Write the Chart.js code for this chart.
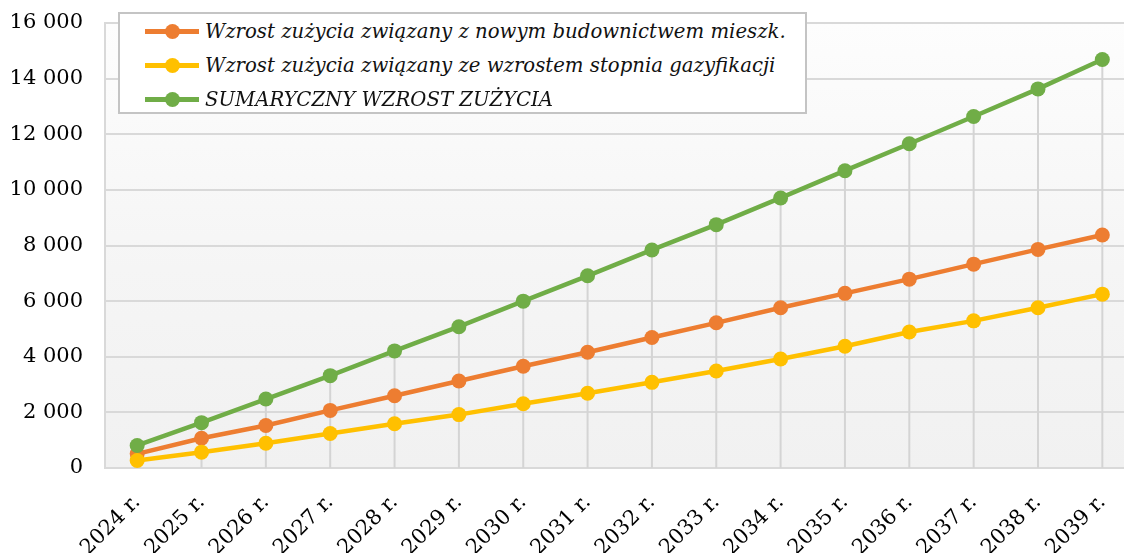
<!DOCTYPE html>
<html lang="pl">
<head>
<meta charset="utf-8">
<script src="https://cdn.jsdelivr.net/npm/chart.js@4/dist/chart.umd.min.js"></script>
<style>
    body { margin: 0; background: #fff; overflow: hidden; }
    #wrap { position: relative; width: 1142px; height: 553px; }
    #legend {
        position: absolute; left: 118px; top: 12px; width: 685px; height: 98px;
        background: #fff; border: 2px solid #c4c4c4;
        font-family: "DejaVu Serif", serif; font-style: italic; font-size: 19.7px; color: #111;
    }
    .row { position: absolute; left: 0; height: 34px; display: flex; align-items: center; white-space: nowrap; }
    .mark { position: relative; width: 54px; height: 34px; margin-left: 25px; margin-right: 6px; }
    .mark .ln { position: absolute; left: 0; right: 0; top: 15px; height: 5px; }
    .mark .dot { position: absolute; left: 20px; top: 10px; width: 15px; height: 15px; border-radius: 50%; }
</style>
</head>
<body>
<div id="wrap">
    <canvas id="chart" width="1142" height="553"></canvas>
    <div id="legend"></div>
</div>
<script>
const years = ['2024 r.', '2025 r.', '2026 r.', '2027 r.', '2028 r.', '2029 r.', '2030 r.', '2031 r.',
    '2032 r.', '2033 r.', '2034 r.', '2035 r.', '2036 r.', '2037 r.', '2038 r.', '2039 r.']

const housingGrowth = [510, 1070, 1530, 2070, 2600, 3130, 3660, 4160, 4690, 5220, 5760, 6280, 6790, 7330, 7860, 8380]
const gasificationGrowth = [270, 570, 890, 1240, 1590, 1920, 2310, 2690, 3080, 3490, 3920, 4380, 4890, 5290, 5760, 6250]
const totalGrowth = [810, 1630, 2480, 3320, 4210, 5080, 6000, 6910, 7840, 8750, 9710, 10690, 11660, 12640, 13630, 14690]

const seriesNames = [
    'Wzrost zużycia związany z nowym budownictwem mieszk.',
    'Wzrost zużycia związany ze wzrostem stopnia gazyfikacji',
    'SUMARYCZNY WZROST ZUŻYCIA'
]
const seriesColors = ['#ED7D31', '#FFC000', '#70AD47']

const yTicks = [0, 2000, 4000, 6000, 8000, 10000, 12000, 14000, 16000]

function formatThousands(v) {
    return String(v).replace(/\B(?=(\d{3})+(?!\d))/g, ' ')
}

function makeDataset(i, values) {
    return {
        label: seriesNames[i],
        data: values,
        borderColor: seriesColors[i],
        backgroundColor: seriesColors[i],
        pointBackgroundColor: seriesColors[i],
        pointBorderWidth: 0,
        pointRadius: 7.5,
        borderWidth: 4.5,
        tension: 0,
        order: 2 - i
    }
}

// plot area fill, light gradient towards the bottom
const plotBackground = {
    id: 'plotBackground',
    beforeDraw(chart) {
        const { ctx, chartArea: a } = chart
        const g = ctx.createLinearGradient(0, a.top, 0, a.bottom)
        g.addColorStop(0, '#fdfdfd')
        g.addColorStop(0.55, '#f5f5f5')
        g.addColorStop(1, '#f1f1f1')
        ctx.save()
        ctx.fillStyle = g
        ctx.fillRect(a.left, a.top, a.right - a.left, a.bottom - a.top)
        ctx.restore()
    }
}

// vertical drop lines from the highest point of each year down to the axis
const dropLines = {
    id: 'dropLines',
    beforeDatasetsDraw(chart) {
        const { ctx, chartArea: a, scales } = chart
        ctx.save()
        ctx.strokeStyle = '#d4d4d4'
        ctx.lineWidth = 2
        for (let i = 0; i < years.length; i++) {
            const top = Math.max(housingGrowth[i], gasificationGrowth[i], totalGrowth[i])
            const x = scales.x.getPixelForValue(i)
            ctx.beginPath()
            ctx.moveTo(x, scales.y.getPixelForValue(top))
            ctx.lineTo(x, a.bottom)
            ctx.stroke()
        }
        ctx.restore()
    }
}

const tickFont = { family: '"DejaVu Serif", serif', size: 21 }

new Chart(document.getElementById('chart'), {
    type: 'line',
    data: {
        labels: years,
        datasets: [
            makeDataset(0, housingGrowth),
            makeDataset(1, gasificationGrowth),
            makeDataset(2, totalGrowth)
        ]
    },
    options: {
        responsive: false,
        animation: false,
        layout: { padding: { top: 23, right: 2, left: 0, bottom: 0 } },
        plugins: { legend: { display: false }, tooltip: { enabled: false } },
        scales: {
            x: {
                offset: true,
                grid: { display: false },
                border: { display: true, color: '#d9d9d9', width: 2 },
                ticks: { color: '#000', font: tickFont, minRotation: 45, maxRotation: 45, padding: 14 },
                afterFit(scale) { scale.height = 85 }
            },
            y: {
                min: 0,
                max: 16000,
                afterBuildTicks(scale) { scale.ticks = yTicks.map(v => ({ value: v })) },
                grid: { color: '#d9d9d9', lineWidth: 2, drawTicks: true, tickLength: 20, tickColor: 'rgba(0,0,0,0)' },
                border: { display: true, color: '#d9d9d9', width: 2 },
                ticks: { color: '#000', font: tickFont, padding: 2, callback: v => formatThousands(v) },
                afterFit(scale) { scale.width = 105 }
            }
        }
    },
    plugins: [plotBackground, dropLines]
})

// legend: line with a marker, then the series name
const legend = document.getElementById('legend')
seriesNames.forEach((name, i) => {
    const row = document.createElement('div')
    row.className = 'row'
    row.style.top = (i * 34) + 'px'
    row.innerHTML = `<div class="mark"><div class="ln" style="background:${seriesColors[i]}"></div>` +
        `<div class="dot" style="background:${seriesColors[i]}"></div></div><span>${name}</span>`
    legend.appendChild(row)
})
</script>
</body>
</html>
